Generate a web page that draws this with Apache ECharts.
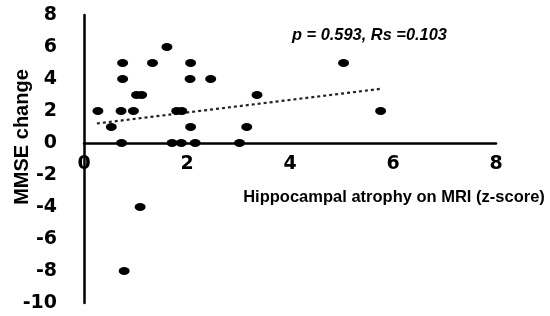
<!DOCTYPE html>
<html>
<head>
<meta charset="utf-8">
<script src="https://cdn.jsdelivr.net/npm/echarts@6/dist/echarts.min.js"></script>
<style>html,body{margin:0;padding:0;background:#fff;}#c{width:550px;height:316px;}</style>
</head>
<body>
<div id="c"></div>
<script>
// Data
var atrophyZ = [0.27, 0.53, 0.73, 0.75, 0.75, 0.72, 0.96, 1.02, 1.12, 1.33, 1.61, 1.71, 1.89, 1.80, 1.90, 2.16, 2.07, 2.06, 2.07, 2.46, 3.02, 3.16, 3.36, 5.04, 5.76, 1.09, 0.78];
var mmseChange = [2, 1, 0, 5, 4, 2, 2, 3, 3, 5, 6, 0, 0, 2, 2, 0, 5, 4, 1, 4, 0, 1, 3, 5, 2, -4, -8];
var trendX = [0.25, 5.75];
var trendY = [1.22, 3.38];
var xTicks = [0, 2, 4, 6, 8];
var yTicks = [-10, -8, -6, -4, -2, 0, 2, 4, 6, 8];
var annotation = 'p = 0.593, Rs =0.103';
var xTitle = 'Hippocampal atrophy on MRI (z-score)';
var yTitle = 'MMSE change';

var FONT = '"Liberation Sans", Arial, sans-serif';
var TICKFONT = '"DejaVu Sans", sans-serif';
var points = atrophyZ.map(function (x, i) { return [x, mmseChange[i]]; });
var trend = trendX.map(function (x, i) { return [x, trendY[i]]; });

var chart = echarts.init(document.getElementById('c'), null, {renderer: 'canvas'});
chart.setOption({
  animation: false,
  backgroundColor: '#fff',
  grid: {left: 84, right: 54, top: 15, bottom: 13, containLabel: false, outerBoundsMode: 'none'},
  xAxis: {
    type: 'value', min: xTicks[0], max: xTicks[xTicks.length - 1], interval: 2,
    offset: -160,
    axisLine: {show: true, onZero: false, lineStyle: {color: '#000', width: 2.5}},
    axisTick: {show: false},
    splitLine: {show: false},
    axisLabel: {margin: 12, fontSize: 19, fontWeight: 'bold', color: '#000', fontFamily: TICKFONT}
  },
  yAxis: {
    type: 'value', min: yTicks[0], max: yTicks[yTicks.length - 1], interval: 2,
    axisLine: {show: true, onZero: false, lineStyle: {color: '#000', width: 2.5}},
    axisTick: {show: false},
    splitLine: {show: false},
    axisLabel: {margin: 27, fontSize: 19, fontWeight: 'bold', color: '#000', fontFamily: TICKFONT}
  },
  series: [
    {
      type: 'line', data: trend, symbol: 'none', silent: true, z: 1,
      lineStyle: {color: '#222', width: 2.2, type: [3, 3]}
    },
    {
      type: 'scatter', data: points, symbol: 'circle', symbolSize: [11, 8], z: 3,
      itemStyle: {color: '#000', opacity: 1}
    }
  ],
  graphic: [
    {type: 'text', left: 292, top: 27,
     style: {text: annotation, font: 'italic bold 16.4px ' + FONT, fill: '#000'}},
    {type: 'text', x: 394, y: 197,
     style: {text: xTitle, font: 'bold 16.5px ' + FONT, fill: '#000', align: 'center', verticalAlign: 'middle'}},
    {type: 'text', x: 22, y: 137, rotation: Math.PI / 2,
     style: {text: yTitle, font: 'bold 20px ' + FONT, fill: '#000', align: 'center', verticalAlign: 'middle'}}
  ]
});
</script>
</body>
</html>
